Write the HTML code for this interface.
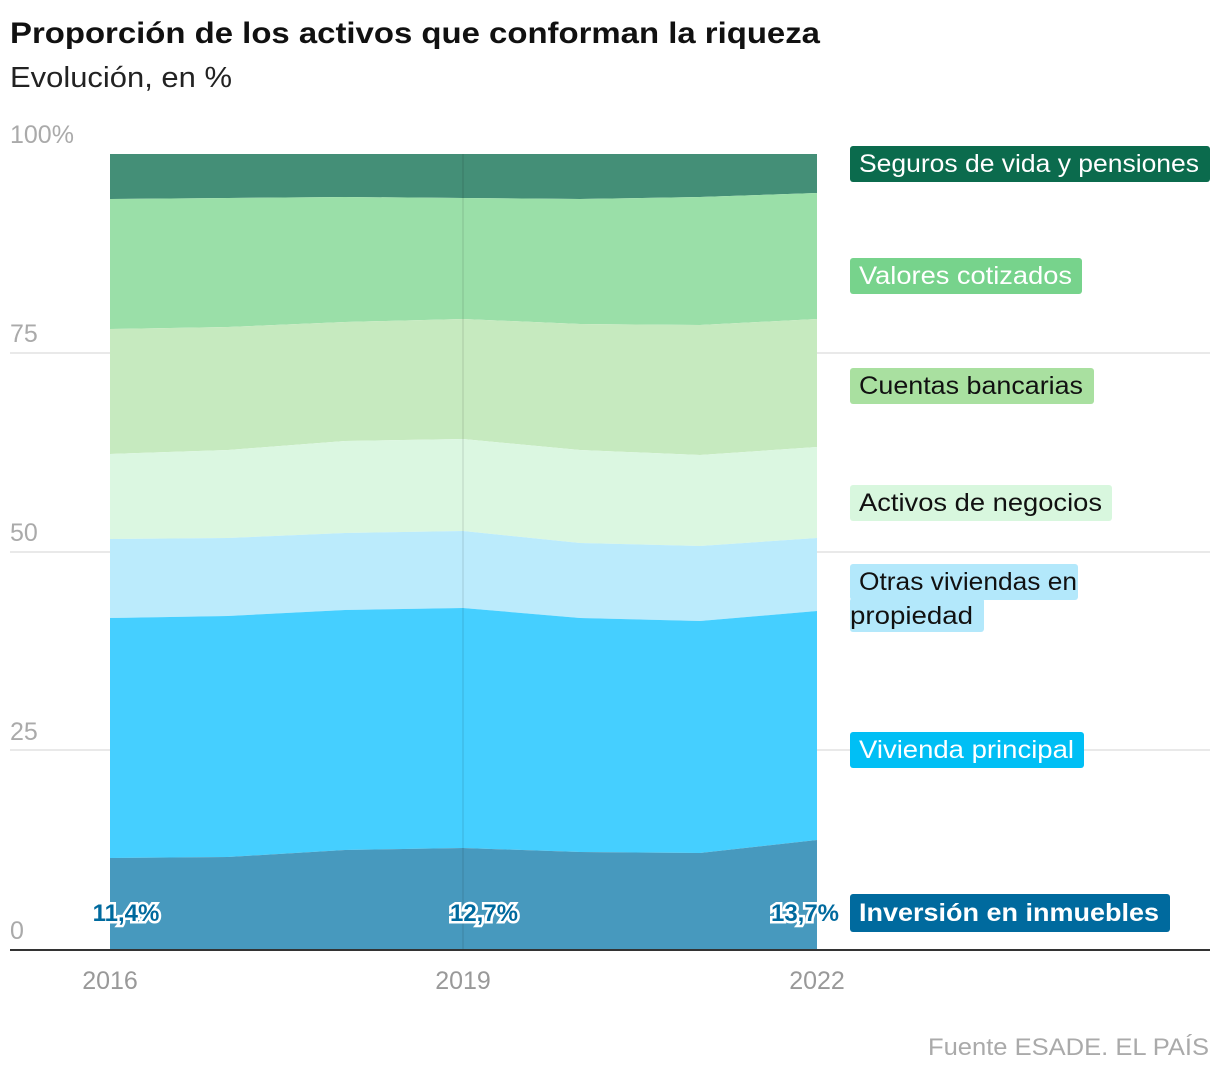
<!DOCTYPE html>
<html><head><meta charset="utf-8"><style>
body{margin:0;background:#fff;width:1220px;height:1076px;overflow:hidden;font-family:"Liberation Sans",sans-serif}
</style></head><body>
<svg width="1220" height="1076" xmlns="http://www.w3.org/2000/svg" font-family="Liberation Sans, sans-serif">
<text x="10" y="43" font-size="30" font-weight="bold" fill="#111" textLength="810" lengthAdjust="spacingAndGlyphs">Proporción de los activos que conforman la riqueza</text>
<text x="10" y="87" font-size="29" fill="#222" textLength="222" lengthAdjust="spacingAndGlyphs">Evolución, en %</text>
<g fill="#aaa" font-size="25">
<text x="10" y="143">100%</text><text x="10" y="342">75</text><text x="10" y="541">50</text><text x="10" y="740">25</text><text x="10" y="939">0</text>
</g>
<g stroke="#e2e2e2" stroke-width="1.5">
<line x1="10" x2="1210" y1="353" y2="353"/><line x1="10" x2="1210" y1="552" y2="552"/><line x1="10" x2="1210" y1="750" y2="750"/>
</g>
<polygon fill="#448f77" points="110,154 817,154 817,193 700,197 580,199 463,198 345,197 228,198 110,199"/>
<polygon fill="#9adfa8" points="110,199 228,198 345,197 463,198 580,199 700,197 817,193 817,319 700,325 580,324 463,319 345,322 228,327 110,329"/>
<polygon fill="#c6eabf" points="110,329 228,327 345,322 463,319 580,324 700,325 817,319 817,447 700,455 580,450 463,439 345,441 228,450 110,454"/>
<polygon fill="#dbf7e1" points="110,454 228,450 345,441 463,439 580,450 700,455 817,447 817,538 700,546 580,543 463,531 345,533 228,538 110,539"/>
<polygon fill="#bbebfc" points="110,539 228,538 345,533 463,531 580,543 700,546 817,538 817,611 700,621 580,618 463,608 345,610 228,616 110,618"/>
<polygon fill="#45cfff" points="110,618 228,616 345,610 463,608 580,618 700,621 817,611 817,840 700,853 580,852 463,848 345,850 228,857 110,858"/>
<polygon fill="#4799be" points="110,858 228,857 345,850 463,848 580,852 700,853 817,840 817,949 110,949"/>
<line x1="463" x2="463" y1="154" y2="949" stroke="#000" stroke-opacity="0.07" stroke-width="2"/>
<line x1="10" x2="1210" y1="950" y2="950" stroke="#333" stroke-width="2"/>
<g fill="#999" font-size="25" text-anchor="middle">
<text x="110" y="989">2016</text><text x="463" y="989">2019</text><text x="817" y="989">2022</text>
</g>
<g font-size="24" font-weight="bold" fill="#006a9e" stroke="#fff" stroke-width="5" paint-order="stroke" text-anchor="middle">
<text x="126" y="921">11,4%</text><text x="484" y="921">12,7%</text><text x="805" y="921">13,7%</text>
</g>
<g font-size="25">
<rect x="850" y="146" width="360" height="36" rx="3" fill="#0b6b4d"/><text x="859" y="172" fill="#fff" textLength="340" lengthAdjust="spacingAndGlyphs">Seguros de vida y pensiones</text>
<rect x="850" y="258" width="232" height="36" rx="3" fill="#77d38c"/><text x="859" y="284" fill="#fff" textLength="213" lengthAdjust="spacingAndGlyphs">Valores cotizados</text>
<rect x="850" y="368" width="244" height="36" rx="3" fill="#a9e0a0"/><text x="859" y="394" fill="#111" textLength="224" lengthAdjust="spacingAndGlyphs">Cuentas bancarias</text>
<rect x="850" y="485" width="262" height="36" rx="3" fill="#d8f7de"/><text x="859" y="511" fill="#111" textLength="243" lengthAdjust="spacingAndGlyphs">Activos de negocios</text>
<rect x="850" y="564" width="228" height="36" rx="3" fill="#b3e8fb"/><text x="859" y="590" fill="#111" textLength="218" lengthAdjust="spacingAndGlyphs">Otras viviendas en</text>
<rect x="850" y="598" width="134" height="34" rx="3" fill="#b3e8fb"/><text x="850" y="624" fill="#111" textLength="123" lengthAdjust="spacingAndGlyphs">propiedad</text>
<rect x="850" y="732" width="234" height="36" rx="3" fill="#00bff5"/><text x="859" y="758" fill="#fff" textLength="215" lengthAdjust="spacingAndGlyphs">Vivienda principal</text>
<rect x="850" y="894" width="320" height="38" rx="3" fill="#006a9e"/><text x="859" y="921" fill="#fff" font-weight="bold" textLength="300" lengthAdjust="spacingAndGlyphs">Inversión en inmuebles</text>
</g>
<text x="1209" y="1055" text-anchor="end" font-size="24" fill="#aaa" textLength="281" lengthAdjust="spacingAndGlyphs">Fuente ESADE. EL PAÍS</text>
</svg>
</body></html>
